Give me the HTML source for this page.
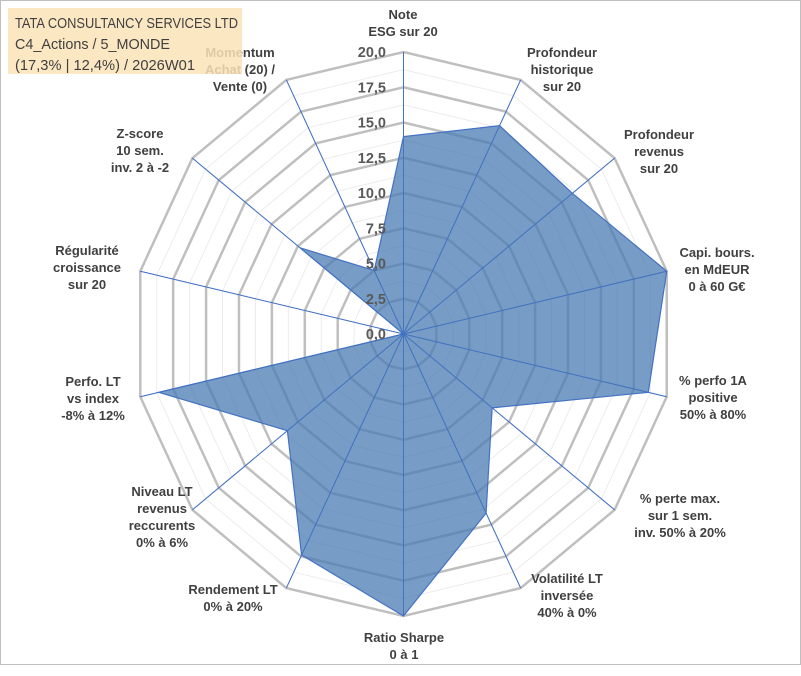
<!DOCTYPE html>
<html><head><meta charset="utf-8"><style>
html,body{margin:0;padding:0;background:#fff}
svg text{font-family:"Liberation Sans",Arial,sans-serif;font-weight:bold}
</style></head><body>
<svg id="chart" width="801" height="671" viewBox="0 0 801 671" xmlns="http://www.w3.org/2000/svg">
<rect x="0.5" y="0.5" width="800" height="664" fill="#fff" stroke="#bfbfbf"/>
<g id="grid"></g>
<g id="series"></g>
<g id="ticks"></g>
<g id="labels"></g>
<g>
<rect x="8" y="8" width="234" height="66" fill="#fbe3b8" fill-opacity="0.85"/>
<text x="15" y="28" font-size="15" fill="#404040" textLength="223" lengthAdjust="spacingAndGlyphs" style="font-weight:normal">TATA CONSULTANCY SERVICES LTD</text>
<text x="15" y="49" font-size="15" fill="#404040" textLength="155" lengthAdjust="spacingAndGlyphs" style="font-weight:normal">C4_Actions / 5_MONDE</text>
<text x="15" y="70" font-size="15" fill="#404040" textLength="180" lengthAdjust="spacingAndGlyphs" style="font-weight:normal">(17,3% | 12,4%) / 2026W01</text>
</g>
</svg>
<script>
const categories=[["Note","ESG sur 20"],["Profondeur","historique","sur 20"],["Profondeur","revenus","sur 20"],["Capi. bours.","en MdEUR","0 à 60 G€"],["% perfo 1A","positive","50% à 80%"],["% perte max.","sur 1 sem.","inv. 50% à 20%"],["Volatilité LT","inversée","40% à 0%"],["Ratio Sharpe","0 à 1"],["Rendement LT","0% à 20%"],["Niveau LT","revenus","reccurents","0% à 6%"],["Perfo. LT","vs index","-8% à 12%"],["Régularité","croissance","sur 20"],["Z-score","10 sem.","inv. 2 à -2"],["Momentum","Achat (20) /","Vente (0)"]];
const values=[14.0,16.4,16.0,20,18.6,8.4,14.1,20,17.4,11.0,18.6,0,9.8,5.0];
const tickValues=[0,2.5,5,7.5,10,12.5,15,17.5,20];
const tickLabels=["0,0","2,5","5,0","7,5","10,0","12,5","15,0","17,5","20,0"];
const labelAnchors=[[403,19],[562,57],[659,139],[717,257],[713,385],[680,503],[567,583],[404,642],[233,594],[162,496],[93,386],[87,255],[140,138],[240,57]];
const NS="http://www.w3.org/2000/svg";
const cx=403.5,cy=334,rx=270,ry=282,maxV=20,N=categories.length;
function pt(i,v){const a=2*Math.PI*i/N;return [cx+rx*(v/maxV)*Math.sin(a),cy-ry*(v/maxV)*Math.cos(a)];}
function mk(tag,attrs,parent){const e=document.createElementNS(NS,tag);for(const k in attrs)e.setAttribute(k,attrs[k]);parent.appendChild(e);return e;}
const grid=document.getElementById('grid');
for(let v=1.25;v<=20.001;v+=1.25){
 const major=Math.abs(v/2.5-Math.round(v/2.5))<1e-6;
 const p=[];for(let i=0;i<N;i++)p.push(pt(i,v).join(','));
 const e=mk('polygon',{points:p.join(' '),fill:'none',stroke:major?'#bfbfbf':'#ececec','stroke-width':major?2.5:1},grid);
 
 
}
for(let i=0;i<N;i++){
 const q=pt(i,20);
 const e=mk('line',{x1:cx,y1:cy,x2:q[0],y2:q[1],stroke:'#4472c4','stroke-width':1},grid);
 
 
}
const ser=document.getElementById('series');
const pts=values.map((v,i)=>pt(i,v).join(',')).join(' ');
const poly=mk('polygon',{points:pts,fill:'#4a7bb3','fill-opacity':0.75,stroke:'#4472c4','stroke-width':1.2},ser);


for(let i=0;i<N;i++){
 const q=pt(i,20);
 const e=mk('line',{x1:cx,y1:cy,x2:q[0],y2:q[1],stroke:'#4472c4','stroke-width':0.8,'stroke-opacity':0.8},ser);
 
 
}
const tk=document.getElementById('ticks');
tickValues.forEach((v,j)=>{
 const y=cy-ry*v/maxV;
 const t=mk('text',{x:386,y:y+5,'text-anchor':'end','font-size':14.5,fill:'#595959'},tk);
 t.textContent=tickLabels[j];
 
 
});
const lb=document.getElementById('labels');
categories.forEach((lines,i)=>{
 const a=labelAnchors[i];
 const t=mk('text',{x:a[0],y:a[1],'text-anchor':'middle','font-size':13,fill:'#404040'},lb);
 
 
 lines.forEach((s,k)=>{const ts=mk('tspan',{x:a[0],y:a[1]+k*17},t);ts.textContent=s;});
});
</script>
</body></html>
